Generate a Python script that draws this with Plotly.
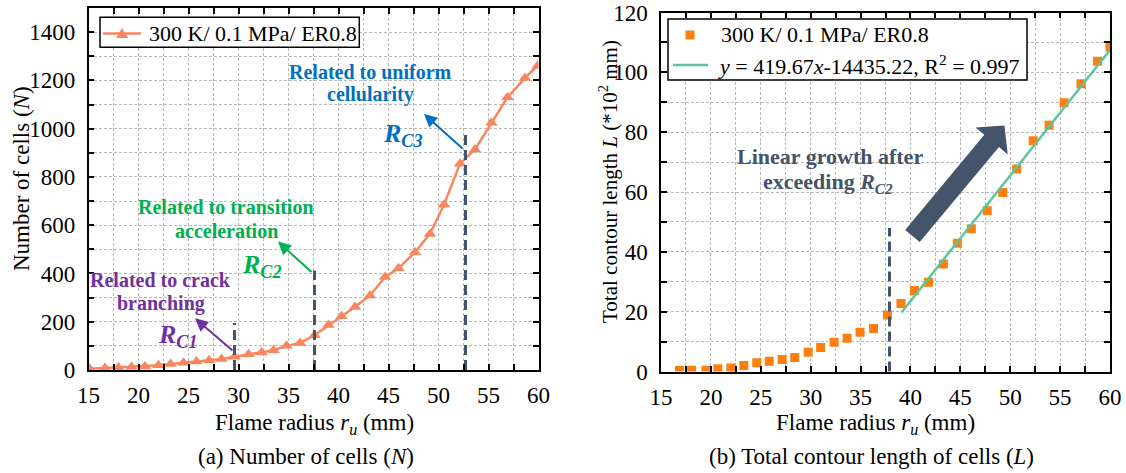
import math
import plotly.graph_objects as go

# ---- (a) number of cells N versus flame radius ----
radius_n = [15.1, 16.65, 18.0, 19.3, 20.65, 22.0, 23.2, 24.5, 25.8, 27.05, 28.3,
            29.6, 31.0, 32.3, 33.5, 34.8, 36.15, 37.6, 39.0, 40.3, 41.65, 43.15,
            44.65, 46.0, 47.65, 49.15, 50.55, 52.15, 53.65, 55.3, 56.9, 58.65, 59.9]
cells_n = [5, 8, 10, 12, 15, 20, 25, 30, 35, 40, 46,
           55, 65, 72, 82, 100, 112, 144, 186, 223, 261, 309,
           385, 422, 488, 564, 685, 855, 914, 1024, 1130, 1210, 1260]

# ---- (b) total contour length L (x100 mm) versus flame radius ----
radius_l = [16.85, 18.07, 19.5, 20.7, 22.0, 23.3, 24.6, 25.85, 27.15, 28.4,
            29.75, 31.0, 32.35, 33.65, 34.95, 36.3, 37.7, 39.05, 40.4, 41.8,
            43.3, 44.7, 46.1, 47.7, 49.25, 50.65, 52.3, 53.9, 55.4, 57.1, 58.75, 60.0]
length_l = [0.3, 0.4, 0.4, 0.9, 1.2, 2.0, 2.9, 3.4, 4.0, 4.7,
            6.4, 8.0, 9.8, 11.1, 13.1, 14.4, 18.9, 22.7, 27.1, 29.8,
            35.9, 42.9, 47.7, 53.7, 59.8, 67.7, 77.1, 82.3, 89.8, 96.2, 103.7, 108.4]

# linear fit of L (mm) after R_C2:  L = slope * r + intercept
fit_slope = 419.67
fit_intercept = -14435.22
fit_r2 = 0.997
fit_x = [39.1, 60.0]

# critical radii markers
rc_left_x = [29.6, 37.6, 52.7]
rc_left_top = [195, 412, 990]
rc_right_x = [37.9]
rc_right_top = [48]

series_name = "300 K/ 0.1 MPa/ ER0.8"
fit_name = f"<i>y</i> = {fit_slope}<i>x</i>{fit_intercept}, R<sup>2</sup> = {fit_r2}"

# ---- figure geometry (pixels) ----
W, H = 1126, 473
L_BOX = (88.5, 538.5, 8.0, 370.0)     # left, right, top, bottom
R_BOX = (661.0, 1110.0, 12.5, 371.5)
X_RANGE = [15, 60]
YN_RANGE = [0, 1500]
YL_RANGE = [0, 120]

FONT = "Liberation Serif, Times New Roman, serif"
FS = 23
FS_LEG = 22
C_N = "#F8875F"
C_L = "#FF7F0E"
C_FIT = "#5EC4A0"
C_DASH = "#44546A"
C_PURPLE = "#7030A0"
C_GREEN = "#00B050"
C_BLUE = "#0070C0"
GRID = "#b8b8b8"


def px(x):
    return x / W


def py(y):
    return 1 - y / H


def x_axis(box, anchor):
    return dict(
        domain=[px(box[0]), px(box[1])], anchor=anchor, range=X_RANGE,
        tick0=15, dtick=5, ticks="inside", ticklen=6, tickwidth=1.5, tickcolor="black",
        showline=True, linecolor="black", linewidth=1.5, mirror="ticks",
        showgrid=True, gridcolor=GRID, griddash="3px,2px", gridwidth=1,
        zeroline=False, ticklabelstandoff=4, automargin=False,
        tickfont=dict(family=FONT, size=FS, color="black"),
        minor=dict(dtick=2.5, tick0=15, ticks="inside", ticklen=6, tickwidth=1.5,
                   tickcolor="black", showgrid=True, gridcolor=GRID,
                   griddash="3px,2px", gridwidth=1),
    )


def y_axis(box, anchor, rng, major, minor):
    return dict(
        domain=[py(box[3]), py(box[2])], anchor=anchor, range=rng,
        tick0=0, dtick=major, ticks="inside", ticklen=6, tickwidth=1.5, tickcolor="black",
        showline=True, linecolor="black", linewidth=1.5, mirror="ticks",
        showgrid=True, gridcolor=GRID, griddash="3px,2px", gridwidth=1,
        zeroline=False, ticklabelstandoff=7, automargin=False,
        tickfont=dict(family=FONT, size=FS, color="black"),
        minor=dict(dtick=minor, tick0=0, ticks="inside", ticklen=6, tickwidth=1.5,
                   tickcolor="black", showgrid=True, gridcolor=GRID,
                   griddash="3px,2px", gridwidth=1),
    )


fig = go.Figure()

# (a) curve
fig.add_trace(go.Scatter(
    x=radius_n, y=cells_n, mode="lines+markers", name=series_name,
    line=dict(color=C_N, width=2.5),
    marker=dict(symbol="triangle-up", size=11, color=C_N),
    xaxis="x", yaxis="y", showlegend=False))
for rx, top in zip(rc_left_x, rc_left_top):
    fig.add_trace(go.Scatter(
        x=[rx, rx], y=[0, top], mode="lines", showlegend=False, hoverinfo="skip",
        line=dict(color=C_DASH, width=3, dash="10px,5px"), xaxis="x", yaxis="y"))

# (b) points and fit
fig.add_trace(go.Scatter(
    x=radius_l, y=length_l, mode="markers", name=series_name,
    marker=dict(symbol="square", size=9, color=C_L),
    xaxis="x2", yaxis="y2", showlegend=False))
fit_y = [(fit_slope * r + fit_intercept) / 100 for r in fit_x]
fig.add_trace(go.Scatter(
    x=fit_x, y=fit_y, mode="lines", name=fit_name,
    line=dict(color=C_FIT, width=2.5), xaxis="x2", yaxis="y2", showlegend=False))
for rx, top in zip(rc_right_x, rc_right_top):
    fig.add_trace(go.Scatter(
        x=[rx, rx], y=[0, top], mode="lines", showlegend=False, hoverinfo="skip",
        line=dict(color=C_DASH, width=3, dash="10px,5px"), xaxis="x2", yaxis="y2"))

annotations = []
shapes = []


def text(x, y, s, color, size=20, xref="x", yref="y", angle=0, xanchor="center"):
    annotations.append(dict(
        x=x, y=y, xref=xref, yref=yref, text=s, showarrow=False,
        xanchor=xanchor, yanchor="middle", textangle=angle,
        font=dict(family=FONT, size=size, color=color)))


def arrow(x0, y0, x1, y1, color, xref="x", yref="y"):
    annotations.append(dict(
        x=x1, y=y1, ax=x0, ay=y0, xref=xref, yref=yref, axref=xref, ayref=yref,
        text="", showarrow=True, arrowhead=2, arrowsize=1.3, arrowwidth=2,
        arrowcolor=color))


def rc_label(x, y, idx, color, size=26):
    text(x, y, f"<b><i>R</i><sub><i>C{idx}</i></sub></b>", color, size=size)


# (a) critical radius notes
text(22.23, 373, "<b>Related to crack</b>", C_PURPLE)
text(22.23, 276, "<b>branching</b>", C_PURPLE)
rc_label(23.95, 141, 1, C_PURPLE)
arrow(29.55, 75, 25.65, 214, C_PURPLE)

text(28.75, 675, "<b>Related to transition</b>", C_GREEN)
text(28.75, 577, "<b>acceleration</b>", C_GREEN)
rc_label(32.35, 431, 2, C_GREEN)
arrow(37.45, 400, 33.95, 532, C_GREEN)

text(43.15, 1236, "<b>Related to uniform</b>", C_BLUE)
text(43.15, 1140, "<b>cellularity</b>", C_BLUE)
rc_label(46.45, 974, 3, C_BLUE)
arrow(52.55, 912, 48.55, 1061, C_BLUE)

# (b) note
text(31.94, 71.8, "<b>Linear growth after</b>", C_DASH, size=22, xref="x2", yref="y2")
text(31.74, 63.0, "<b>exceeding <i>R</i><sub><i>C2</i></sub></b>", C_DASH, size=22,
     xref="x2", yref="y2")

# axis titles, panel captions and legend labels (pixel positions -> paper)
xt = "Flame radius <i>r<sub>u</sub></i> (mm)"
paper_texts = [
    (314, 424, xt, FS, 0, "center"),
    (875, 424, xt, FS, 0, "center"),
    (306, 456, "(a) Number of cells (<i>N</i>)", FS, 0, "center"),
    (871, 456, "(b) Total contour length of cells (<i>L</i>)", FS, 0, "center"),
    (21, 179, "Number of cells (<i>N</i>)", FS, -90, "center"),
    (608, 182, "Total contour length <i>L</i> (*10<sup>2</sup> mm)", 21, -90, "center"),
    (147, 33, series_name, FS_LEG, 0, "left"),
    (719, 35, series_name, FS_LEG, 0, "left"),
    (716, 65, fit_name, FS_LEG, 0, "left"),
]
for x, y, s, size, ang, anc in paper_texts:
    text(px(x), py(y), s, "black", size, "paper", "paper", ang, anc)


def rect(x0, y0, x1, y1, **kw):
    shapes.append(dict(type="rect", xref="paper", yref="paper",
                       x0=px(x0), x1=px(x1), y0=py(y1), y1=py(y0), layer="above", **kw))


def seg(x0, y0, x1, y1, color, width):
    shapes.append(dict(type="line", xref="paper", yref="paper",
                       x0=px(x0), x1=px(x1), y0=py(y0), y1=py(y1), layer="above",
                       line=dict(color=color, width=width)))


def poly(pts, color):
    path = "M " + " L ".join(f"{px(a):.5f},{py(b):.5f}" for a, b in pts) + " Z"
    shapes.append(dict(type="path", xref="paper", yref="paper", path=path,
                       fillcolor=color, line=dict(width=0), layer="above"))


# legend of (a)
rect(100, 17.3, 359.3, 47.3, line=dict(color="black", width=1.5), fillcolor="white")
seg(103, 33.5, 141, 33.5, C_N, 2.5)
poly([(116, 38), (128, 38), (122, 28)], C_N)

# legend of (b)
rect(668, 19, 1027, 80, line=dict(color="black", width=1.5), fillcolor="white")
poly([(685.5, 30.5), (694.5, 30.5), (694.5, 39.5), (685.5, 39.5)], C_L)
seg(673, 65, 708, 65, C_FIT, 2.5)


# block arrow in panel (b): built in pixel space, expressed in data units
def block_arrow(tail, tip, shaft_half, head_half, head_len, box, yr):
    sx = (box[1] - box[0]) / (X_RANGE[1] - X_RANGE[0])
    sy = (box[3] - box[2]) / (yr[1] - yr[0])
    tx, ty = tail[0] * sx, tail[1] * sy
    hx, hy = tip[0] * sx, tip[1] * sy
    dx, dy = hx - tx, hy - ty
    d = math.hypot(dx, dy)
    ux, uy = dx / d, dy / d
    nx, ny = -uy, ux
    bx, by = hx - ux * head_len, hy - uy * head_len
    pts = [
        (tx + nx * shaft_half, ty + ny * shaft_half),
        (bx + nx * shaft_half, by + ny * shaft_half),
        (bx + nx * head_half, by + ny * head_half),
        (hx, hy),
        (bx - nx * head_half, by - ny * head_half),
        (bx - nx * shaft_half, by - ny * shaft_half),
        (tx - nx * shaft_half, ty - ny * shaft_half),
    ]
    pts = [(p[0] / sx, p[1] / sy) for p in pts]
    return "M " + " L ".join(f"{a:.4f},{b:.4f}" for a, b in pts) + " Z"


shapes.append(dict(type="path", xref="x2", yref="y2",
                   path=block_arrow((40.2, 45.3), (49.42, 82.2), 9.5, 21, 20,
                                    R_BOX, YL_RANGE),
                   fillcolor=C_DASH, line=dict(width=0), layer="above"))

fig.update_layout(
    width=W, height=H,
    margin=dict(l=0, r=0, t=0, b=0, pad=0, autoexpand=False),
    paper_bgcolor="white", plot_bgcolor="white", showlegend=False,
    xaxis=x_axis(L_BOX, "y"),
    yaxis=y_axis(L_BOX, "x", YN_RANGE, 200, 100),
    xaxis2=x_axis(R_BOX, "y2"),
    yaxis2=y_axis(R_BOX, "x2", YL_RANGE, 20, 10),
    annotations=annotations,
    shapes=shapes,
    font=dict(family=FONT, size=FS, color="black"),
)

fig.write_html("out.html")
